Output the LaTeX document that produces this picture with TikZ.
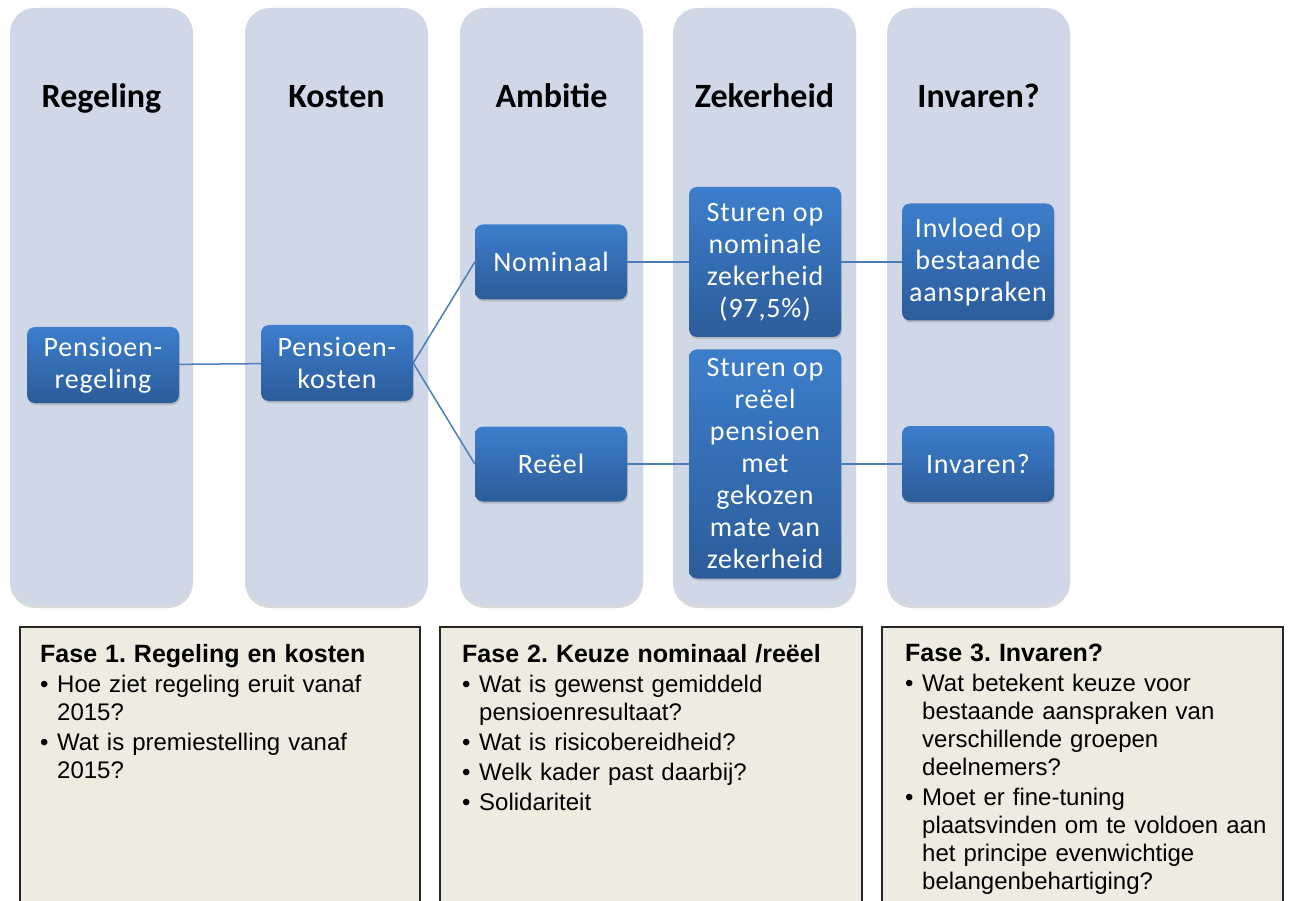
\documentclass[tikz,border=0pt]{standalone}
\usepackage{fontspec}
\setmainfont{Carlito}
\newfontfamily\fasefont{Liberation Sans}
\newfontfamily\blokfont{Carlito}[LetterSpace=3]
\usetikzlibrary{shadows, positioning}

\definecolor{kolomgrijs}{RGB}{208,216,232}
\definecolor{blauwtop}{RGB}{60,126,204}
\definecolor{blauwbodem}{RGB}{44,92,154}
\definecolor{lijnblauw}{RGB}{74,126,187}
\definecolor{fasebeige}{RGB}{238,236,225}

\newcommand{\punt}[1]{\par\hangindent=17pt\hangafter=1\noindent\makebox[17pt][l]{\textbullet}#1\par}
\newcommand{\fasetitel}[1]{{\fontsize{25}{28}\selectfont\bfseries #1}}
\frenchspacing

\begin{document}
\begin{tikzpicture}[x=1pt, y=-1pt, on grid,
    kolom/.style={fill=kolomgrijs, rounded corners=25pt,
      drop shadow={opacity=.3, shadow xshift=0pt, shadow yshift=-3pt}},
    kop/.style={anchor=base, font=\fontsize{34}{40}\selectfont\bfseries},
    blok/.style={rectangle, rounded corners=8pt, top color=blauwtop, bottom color=blauwbodem,
      text=white, minimum width=152pt, align=center, inner sep=0pt,
      font=\blokfont\fontsize{28}{32}\selectfont,
      drop shadow={opacity=.35, shadow xshift=1pt, shadow yshift=-2pt}},
    fase/.style={draw=black!85, line width=1.5pt, fill=fasebeige},
    tekst/.style={anchor=north west, inner sep=0pt, text width=#1, align=left,
      font=\fasefont\fontsize{24}{28}\selectfont},
    lijn/.style={draw=lijnblauw, line width=1.5pt}]
  \clip (0,0) rectangle (1291,901);

  % kolommen met kopjes
  \foreach \x/\naam/\kopje in {10/regeling/Regeling, 245/kosten/Kosten, 460/ambitie/Ambitie,
      673/zekerheid/Zekerheid, 887/invaren/Invaren?} {
    \path[kolom] (\x,8) rectangle ++(183,597);
    \node[kop] (kop-\naam) at (\x+91.5,108) {\kopje};
  }

  % blokken
  \node[blok, minimum height=76pt] (pensioenregeling) at (103,365) {Pensioen-\\regeling};
  \node[blok, minimum height=76pt] (pensioenkosten)   at (337,363) {Pensioen-\\kosten};
  \node[blok, minimum height=75pt] (nominaal)         at (551,262) {Nominaal};
  \node[blok, minimum height=75pt]  (reeel)    [below=202pt of nominaal] {Reëel};
  \node[blok, minimum height=150pt] (sturen-nominaal) [right=214pt of nominaal]
    {Sturen op\\nominale\\zekerheid\\(97,5\%)};
  \node[blok, minimum height=229pt] (sturen-reeel)    [right=214pt of reeel]
    {Sturen op\\reëel\\pensioen\\met\\gekozen\\mate van\\zekerheid};
  \node[blok, minimum height=117pt] (invloed) [right=213pt of sturen-nominaal]
    {Invloed op\\bestaande\\aanspraken};
  \node[blok, minimum height=76pt]  (invaren) [right=213pt of sturen-reeel] {Invaren?};

  % verbindingen
  \path[lijn] (pensioenregeling) -- (pensioenkosten);
  \path[lijn] (pensioenkosten.east) -- (nominaal.west);
  \path[lijn] (pensioenkosten.east) -- (reeel.west);
  \path[lijn] (nominaal) -- (sturen-nominaal);
  \path[lijn] (reeel) -- (sturen-reeel);
  \path[lijn] (sturen-nominaal) -- (invloed);
  \path[lijn] (sturen-reeel) -- (invaren);

  % fasen
  \path[fase] (20,627) rectangle (420,915);
  \path[fase] (440,627) rectangle (862,915);
  \path[fase] (882,627) rectangle (1283,915);
  \node[tekst=370pt] (fase1) at (40,644) {\setlength{\parskip}{2pt}%
    \fasetitel{Fase 1. Regeling en kosten}
    \punt{Hoe ziet regeling eruit vanaf\newline 2015?}
    \punt{Wat is premiestelling vanaf\newline 2015?}};
  \node[tekst=390pt] (fase2) at (462,644) {\setlength{\parskip}{2pt}%
    \fasetitel{Fase 2. Keuze nominaal /reëel}
    \punt{Wat is gewenst gemiddeld\newline pensioenresultaat?}
    \punt{Wat is risicobereidheid?}
    \punt{Welk kader past daarbij?}
    \punt{Solidariteit}};
  \node[tekst=380pt] (fase3) at (905,644) {\setlength{\parskip}{2pt}%
    \fasetitel{Fase 3. Invaren?}
    \punt{Wat betekent keuze voor\newline bestaande aanspraken van\newline verschillende groepen\newline deelnemers?}
    \punt{Moet er fine-tuning\newline plaatsvinden om te voldoen aan\newline het principe evenwichtige\newline belangenbehartiging?}};
\end{tikzpicture}
\end{document}
